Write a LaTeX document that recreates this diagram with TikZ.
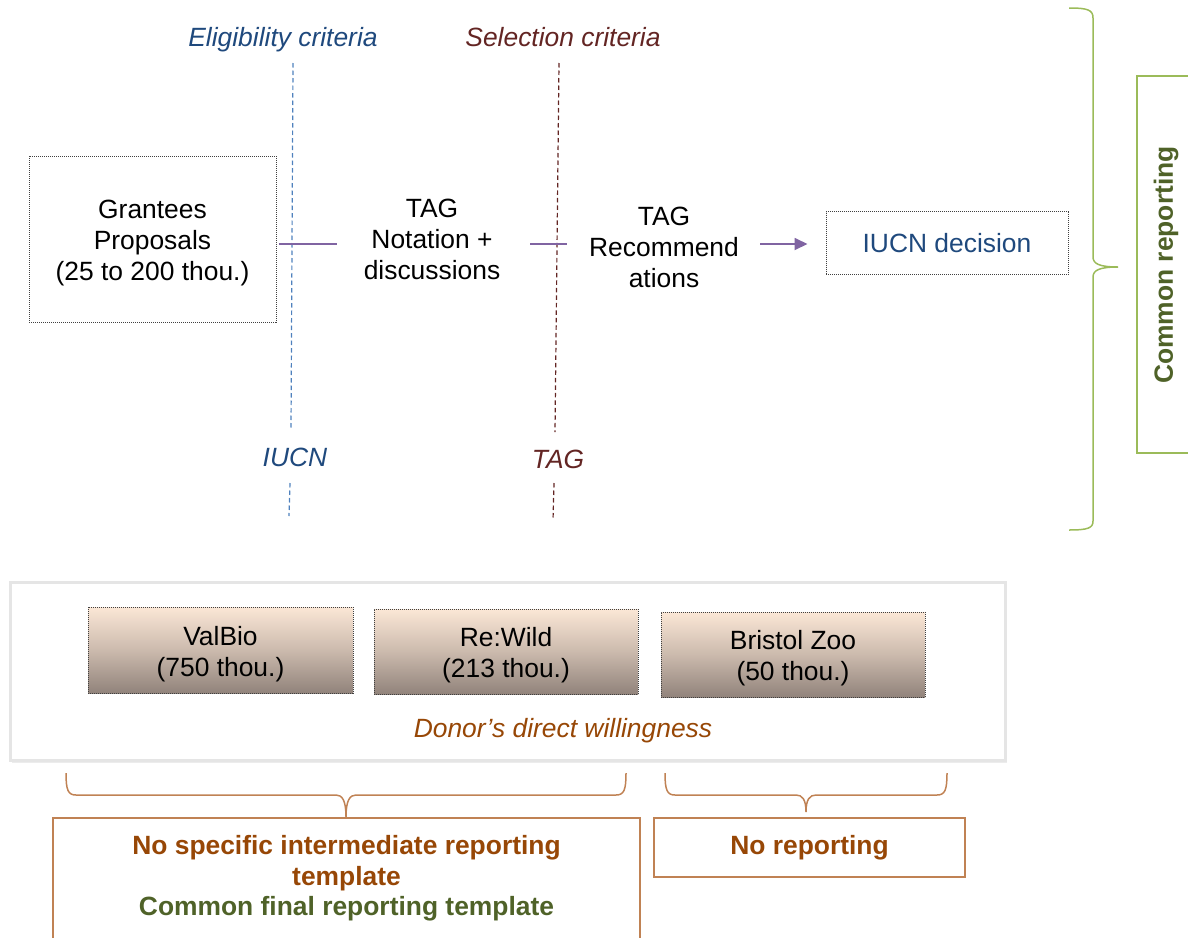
\documentclass[tikz,border=0pt]{standalone}
\usepackage{fontspec}
\setmainfont{Liberation Sans}
\usetikzlibrary{arrows.meta,shadows}
\definecolor{eblue}{RGB}{31,73,125}
\definecolor{lblue}{RGB}{79,129,189}
\definecolor{dred}{RGB}{99,37,35}
\definecolor{purp}{RGB}{128,100,162}
\definecolor{lgreen}{RGB}{155,187,89}
\definecolor{dgreen}{RGB}{79,98,40}
\definecolor{obrown}{RGB}{151,71,6}
\definecolor{lbrown}{RGB}{192,130,84}
\definecolor{gtop}{RGB}{251,231,214}
\definecolor{gbot}{RGB}{145,131,123}
\begin{document}
\begin{tikzpicture}[x=1pt,y=-1pt,
  txt/.style={font=\fontsize{26.4}{31}\selectfont, align=center, inner sep=0pt},
  itxt/.style={font=\fontsize{26.4}{31}\selectfont\itshape, inner sep=0pt},
  btxt/.style={font=\fontsize{26.4}{30.5}\selectfont\bfseries, align=center, inner sep=0pt},
  dotbox/.style={draw=black!75, line width=1pt, dash pattern=on 1pt off 1pt, align=center,
     font=\fontsize{26.4}{31}\selectfont, inner sep=0pt},
  gradbox/.style={dotbox, top color=gtop, bottom color=gbot, middle color=gtop!55!gbot},
  bluedash/.style={draw=lblue, line width=1.2pt, dash pattern=on 4.5pt off 3pt},
  reddash/.style={draw=dred, line width=1.2pt, dash pattern=on 4.5pt off 3pt},
  purpline/.style={draw=purp, line width=1.8pt},
  gbrace/.style={draw=lgreen, line width=1.5pt},
  bbrace/.style={draw=lbrown, line width=1.5pt},
]
\useasboundingbox (0,0) rectangle (1188,937);

% top labels
\node[itxt, text=eblue] (elig) at (283,40) {Eligibility criteria};
\node[itxt, text=dred] (sel) at (563,37) {Selection criteria};
\node[itxt, text=eblue] (iucn) at (295,457) {IUCN};
\node[itxt, text=dred] (tagl) at (558,459) {TAG};

% dashed lines
\coordinate (b1) at (293,63);
\coordinate (b2) at (289,516);
\coordinate (r1) at (559,63);
\coordinate (r2) at (553,520);
\draw[bluedash] (b1) -- (291,429);
\draw[bluedash] (290,483) -- (b2);
\draw[reddash] (r1) -- (555,432);
\draw[reddash] (554,483) -- (r2);

% flow
\node[dotbox, minimum width=247pt, minimum height=166pt] (grantees) at (152.5,239) {};
\node[txt] (granteesT) at (152.5,243) {Grantees\\Proposals\\(25 to 200 thou.)};
\node[txt] (tagn) at (432,239) {TAG\\Notation +\\discussions};
\node[txt] (tagr) at (664,247) {TAG\\Recommend\\ations};
\node[dotbox, minimum width=242pt, minimum height=63pt, text=eblue] (dec) at (947,243) {IUCN decision};

\coordinate (lineY) at (0,244);
\draw[purpline, shorten <=2pt, shorten >=27pt] (grantees.east |- lineY) -- (tagn.west |- lineY);
\draw[purpline, shorten <=30pt, shorten >=22pt] (tagn.east |- lineY) -- (tagr.west |- lineY);
\draw[purpline, -{Triangle[length=13pt,width=12pt]}, shorten <=21pt, shorten >=18pt] (tagr.east |- lineY) -- (dec.west |- lineY);

% green brace and common reporting
\draw[gbrace] (1069,8) .. controls (1088,8) and (1093,10) .. (1093,18) -- (1093,257)
  .. controls (1093,264) and (1100,267) .. (1118,267)
  .. controls (1100,267) and (1093,270) .. (1093,277) -- (1093,521)
  .. controls (1093,528) and (1088,530) .. (1069,530);
\draw[draw=lgreen, line width=1.5pt] (1190,76) -- (1137,76) -- (1137,453) -- (1190,453);
\node[btxt, text=dgreen, rotate=90] (cr) at (1166,265) {Common reporting};

% donors box
\draw[draw=black!10, line width=3pt, fill=white,
  drop shadow={shadow xshift=2pt, shadow yshift=-3pt, opacity=0.15}] (10,582) rectangle (1005,760);
\node[gradbox, minimum width=265pt, minimum height=86pt] (valbio) at (220.5,650) {};
\node[txt] (valbioT) at (220.5,654) {ValBio\\(750 thou.)};
\node[gradbox, minimum width=264pt, minimum height=85pt] (rewild) at (506,651.5) {};
\node[txt] (rewildT) at (506,655.5) {Re:Wild\\(213 thou.)};
\node[gradbox, minimum width=264pt, minimum height=85pt] (bristol) at (793,654.5) {};
\node[txt] (bristolT) at (793,658.5) {Bristol Zoo\\(50 thou.)};
\node[itxt, text=obrown] (donor) at (563,731) {Donor’s direct willingness};

% bottom braces
\draw[bbrace] (66,773) .. controls (66,790) and (68,795) .. (76,795) -- (336,795)
  .. controls (342,795) and (346,800) .. (346,817)
  .. controls (346,800) and (350,795) .. (356,795) -- (616,795)
  .. controls (624,795) and (626,790) .. (626,773);
\draw[bbrace] (665,773) .. controls (665,790) and (667,795) .. (675,795) -- (796,795)
  .. controls (802,795) and (806,799) .. (806,812)
  .. controls (806,799) and (810,795) .. (816,795) -- (937,795)
  .. controls (945,795) and (947,790) .. (947,773);

% bottom boxes
\draw[draw=lbrown, line width=1.5pt] (53,940) -- (53,818) -- (640,818) -- (640,940);
\node[btxt] (nsp) at (346.5,878.5)
  {\textcolor{obrown}{No specific intermediate reporting}\\\textcolor{obrown}{template}\\\textcolor{dgreen}{Common final reporting template}};
\node[draw=lbrown, line width=1.5pt, minimum width=311pt, minimum height=59pt,
  btxt, text=obrown] (norep) at (809.5,847.5) {No reporting};
\end{tikzpicture}
\end{document}
